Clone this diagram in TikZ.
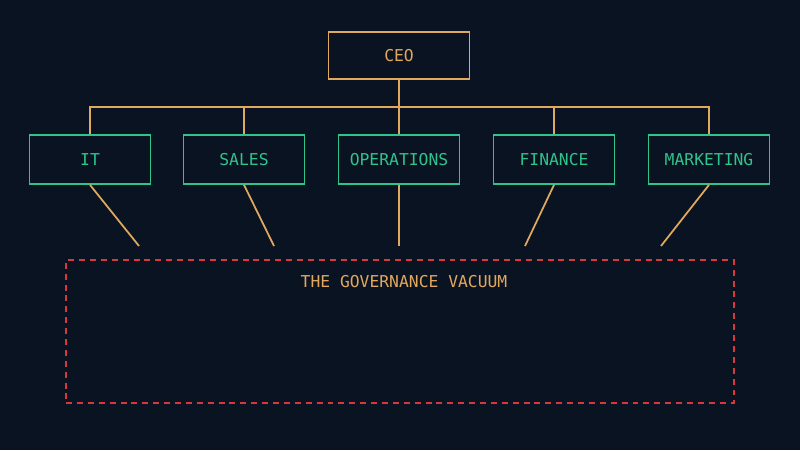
\documentclass[tikz,border=0pt]{standalone}
\usepackage{fontspec}
\setmonofont{DejaVu Sans Mono}
\definecolor{bgnavy}{HTML}{0A1322}
\definecolor{gold}{HTML}{E2A85E}
\definecolor{mint}{HTML}{2EC48C}
\definecolor{alarm}{HTML}{D8383C}
\begin{document}
\begin{tikzpicture}[
   x=0.02cm, y=-0.02cm,
   lead/.style={draw=gold, line width=1pt, text=gold, minimum width=2.82cm, minimum height=0.94cm, font=\ttfamily\fontsize{9.3}{11}\selectfont},
   dept/.style={draw=mint, line width=1pt, text=mint, minimum width=2.42cm, minimum height=0.98cm, font=\ttfamily\fontsize{9.3}{11}\selectfont},
   link/.style={-, draw=gold, line width=1pt},
   vacuum/.style={draw=alarm, line width=1pt, dash pattern=on 3.4pt off 2.8pt}
]
\fill[bgnavy] (0,0) rectangle (800,450);
\useasboundingbox (0,0) rectangle (800,450);

% top of the chart
\node[lead] (ceo) at (399,55.5) {CEO};
\coordinate (bus) at (399,107);

% departments
\node[dept] (it) at (90,159.5) {IT};
\node[dept] (sales) at (244,159.5) {SALES};
\node[dept] (ops) at (399,159.5) {OPERATIONS};
\node[dept] (fin) at (554,159.5) {FINANCE};
\node[dept] (mkt) at (709,159.5) {MARKETING};

\draw[link] (ceo) -- (bus);
\draw[link] (it.north) |- (bus) -| (mkt.north);
\draw[link] (sales.north) -- (sales.north |- bus);
\draw[link] (ops.north) -- (ops.north |- bus);
\draw[link] (fin.north) -- (fin.north |- bus);

% the gap below
\node[vacuum, minimum width=13.36cm, minimum height=2.86cm] (gap) at (400,331.5) {};
\node[text=gold, font=\ttfamily\fontsize{9.3}{11}\selectfont] (gaplabel) at (404,282) {THE GOVERNANCE VACUUM};

\coordinate (v1) at (139,246);
\coordinate (v2) at (274,246);
\coordinate (v3) at (399,246);
\coordinate (v4) at (525,246);
\coordinate (v5) at (661,246);
\draw[link] (it.south) -- (v1);
\draw[link] (sales.south) -- (v2);
\draw[link] (ops.south) -- (v3);
\draw[link] (fin.south) -- (v4);
\draw[link] (mkt.south) -- (v5);

\end{tikzpicture}
\end{document}
